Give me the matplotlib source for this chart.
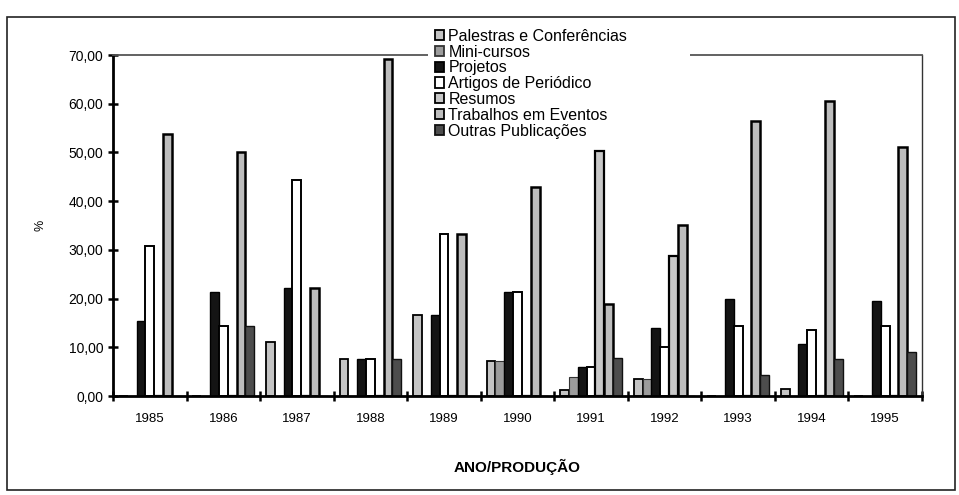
import matplotlib
matplotlib.use('Agg')
import matplotlib.pyplot as plt
from matplotlib.patches import Rectangle, Patch
import numpy as np

plt.rcParams['font.family'] = ['Liberation Sans', 'DejaVu Sans']

anos = ['1985', '1986', '1987', '1988', '1989', '1990', '1991', '1992', '1993', '1994', '1995']

# valores (%)
palestras = [0, 0, 11.11, 7.69, 16.67, 7.14, 1.2, 3.5, 0, 1.52, 0]
mini_cursos = [0, 0, 0, 0, 0, 7.14, 3.8, 3.5, 0, 0, 0]
projetos = [15.38, 21.43, 22.22, 7.69, 16.67, 21.43, 6.0, 14.0, 20.0, 10.61, 19.6]
artigos = [30.77, 14.29, 44.44, 7.69, 33.33, 21.43, 6.0, 10.0, 14.4, 13.64, 14.3]
resumos = [0, 0, 0, 0, 0, 0, 50.3, 28.8, 0, 0, 0]
trabalhos = [53.85, 50.0, 22.22, 69.23, 33.33, 42.86, 18.9, 35.2, 56.5, 60.61, 51.1]
outras = [0, 14.29, 0, 7.69, 0, 0, 7.9, 0, 4.3, 7.58, 9.1]

series = [
    ('Palestras e Conferências', palestras, '#c4c4c4', 'black', 1.3),
    ('Mini-cursos', mini_cursos, '#9c9c9c', '#333333', 0.8),
    ('Projetos', projetos, '#141414', 'black', 1.0),
    ('Artigos de Periódico', artigos, 'white', 'black', 1.4),
    ('Resumos', resumos, '#c8c8c8', 'black', 1.6),
    ('Trabalhos em Eventos', trabalhos, '#bdbdbd', 'black', 1.8),
    ('Outras Publicações', outras, '#4d4d4d', '#111111', 1.0),
]

fig = plt.figure(figsize=(9.59, 4.95), dpi=100)
ax = fig.add_axes([113 / 959, 99 / 495, 809 / 959, 341 / 495])

x = np.arange(len(anos))
largura = 0.12
for k, (nome, valores, cor, borda, lw) in enumerate(series):
    ax.bar(x + (k - 3) * largura, valores, largura, color=cor, edgecolor=borda,
           linewidth=lw, label=nome, zorder=2)

ax.set_xlim(-0.5, len(anos) - 0.5)
ax.set_ylim(0, 70)
ax.set_yticks(np.arange(0, 71, 10))
ax.set_yticklabels([f'{v:.2f}'.replace('.', ',') for v in range(0, 71, 10)], fontsize=10)
ax.set_xticks(np.arange(-0.5, len(anos), 1))
ax.set_xticklabels([])
ax.set_xticks(x, minor=True)
ax.set_xticklabels(anos, minor=True, fontsize=9.5)
ax.tick_params(axis='x', which='major', direction='inout', length=7, width=1.8)
ax.tick_params(axis='x', which='minor', length=0, pad=12)
ax.tick_params(axis='y', direction='inout', length=7, width=1.8)

ax.spines['left'].set_linewidth(2)
ax.spines['bottom'].set_linewidth(2)
ax.spines['top'].set_linewidth(1.3)
ax.spines['top'].set_color('#555555')
ax.spines['right'].set_linewidth(1.0)
ax.spines['right'].set_color('#333333')

ax.set_ylabel('%', fontsize=9, labelpad=16)
ax.set_xlabel('ANO/PRODUÇÃO', fontsize=11, fontweight='bold', labelpad=25)

# caixa branca da legenda (cobre a borda superior do gráfico)
fig.patches.append(Rectangle((428 / 959, 1 - 148 / 495), 262 / 959, 123 / 495,
                             transform=fig.transFigure, facecolor='white',
                             edgecolor='none', zorder=4))

handles = [Patch(facecolor=cor, edgecolor=borda, linewidth=1.3, label=nome)
           for nome, valores, cor, borda, lw in series]
leg = fig.legend(handles=handles, loc='upper left', bbox_to_anchor=(430 / 959, 1 - 24 / 495),
                 fontsize=11.5, frameon=False, handlelength=0.6, handleheight=0.6,
                 handletextpad=0.25, labelspacing=0.05, borderpad=0.3, borderaxespad=0)
leg.set_zorder(5)

# moldura externa
fig.patches.append(Rectangle((7 / 959, 5 / 495), 948 / 959, 473 / 495, transform=fig.transFigure,
                             fill=False, edgecolor='#222222', linewidth=1.2))

plt.savefig('out.png', dpi=100)
